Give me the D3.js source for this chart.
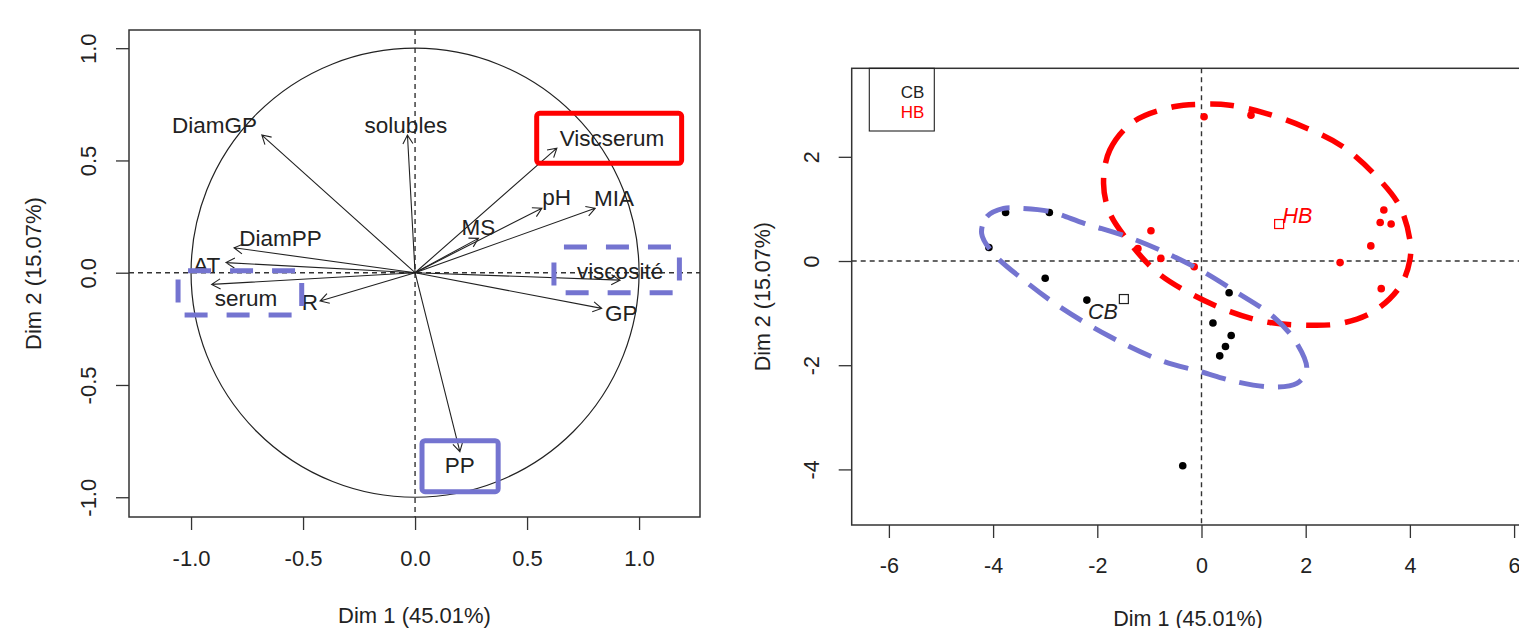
<!DOCTYPE html>
<html>
<head>
<meta charset="utf-8">
<script src="https://cdn.jsdelivr.net/npm/d3@7"></script>
<style>
  body { margin: 0; background: #fff; }
  svg { display: block; font-family: 'Liberation Sans', Arial, sans-serif; }
</style>
</head>
<body>
<div id="chartwrap"></div>
<script>
const WIDTH = 1519;
const HEIGHT = 628;

const INK = '#222';
const RED = '#ff0000';
const BLUE = '#7474d0';

// ---- left panel : variables factor map ----
const varNames = ['DiamGP', 'solubles', 'Viscserum', 'pH', 'MIA', 'MS', 'DiamPP', 'AT', 'serum', 'R', 'viscosité', 'GP', 'PP'];
const varDim1 = [-0.684, -0.034, 0.633, 0.566, 0.804, 0.283, -0.808, -0.844, -0.908, -0.424, 0.915, 0.833, 0.200];
const varDim2 = [0.613, 0.613, 0.555, 0.287, 0.287, 0.153, 0.111, 0.045, -0.052, -0.126, -0.033, -0.159, -0.797];
const labelDim1 = [-0.895, -0.041, 0.879, 0.632, 0.888, 0.283, -0.601, -0.930, -0.755, -0.469, 0.915, 0.921, 0.200];
const labelDim2 = [0.658, 0.658, 0.602, 0.337, 0.331, 0.205, 0.153, 0.036, -0.110, -0.129, 0.008, -0.177, -0.857];
const varTicks = [-1, -0.5, 0, 0.5, 1];

// highlight boxes drawn over the map (data units)
const boxX0 = [0.543, 0.620, -1.058, 0.031];
const boxX1 = [1.190, 1.180, -0.506, 0.371];
const boxY0 = [0.487, -0.089, -0.188, -0.975];
const boxY1 = [0.710, 0.115, 0.009, -0.748];
const boxKind = ['red', 'blueDash', 'blueDash', 'blue'];

// ---- right panel : individuals factor map ----
const cbDim1 = [-3.76, -2.92, -4.08, -3.00, -2.20, 0.53, 0.22, 0.57, 0.46, 0.35, -0.36];
const cbDim2 = [0.93, 0.93, 0.26, -0.33, -0.75, -0.61, -1.19, -1.43, -1.64, -1.82, -3.93];
const hbDim1 = [0.05, 0.95, -0.97, -1.22, -0.78, -0.14, 3.50, 3.43, 3.64, 3.25, 2.66, 3.45];
const hbDim2 = [2.77, 2.80, 0.58, 0.24, 0.05, -0.11, 0.98, 0.74, 0.71, 0.29, -0.03, -0.53];
const groupNames = ['CB', 'HB'];
const groupDim1 = [-1.49, 1.49];
const groupDim2 = [-0.73, 0.71];
const groupLabelDim1 = [-1.89, 1.84];
const groupLabelDim2 = [-0.96, 0.88];
const indXTicks = [-6, -4, -2, 0, 2, 4, 6];
const indYTicks = [-4, -2, 0, 2];

// hand drawn outlines around the groups (data units)
const hbOutline = [[-1.88, 1.49], [-1.76, 2.13], [-1.31, 2.67], [-0.54, 2.96], [0.03, 3.01], [0.55, 2.99],
  [1.25, 2.83], [2.02, 2.55], [2.72, 2.19], [3.36, 1.62], [3.81, 1.04], [4.00, 0.40], [4.00, 0.02],
  [3.81, -0.49], [3.30, -0.97], [2.66, -1.20], [1.95, -1.23], [1.25, -1.17], [0.55, -0.97],
  [-0.22, -0.62], [-0.86, -0.21], [-1.37, 0.34], [-1.76, 0.92]];
const cbOutline = [[-4.22, 0.53], [-4.12, 0.85], [-3.80, 1.01], [-3.45, 1.01], [-2.91, 0.95], [-2.24, 0.72],
  [-1.44, 0.47], [-0.73, 0.18], [-0.03, -0.17], [0.61, -0.56], [1.38, -1.07], [1.83, -1.58],
  [2.02, -2.09], [1.83, -2.35], [1.38, -2.42], [0.68, -2.32], [-0.03, -2.12], [-0.80, -1.90],
  [-1.76, -1.45], [-2.72, -0.88], [-3.42, -0.36], [-4.00, 0.15]];

const svg = d3.select('#chartwrap')
  .append('svg')
  .attr('width', WIDTH)
  .attr('height', HEIGHT)
  .style('background-color', '#fff')

// ================= left panel =================
const xL = d3.scaleLinear().domain([-1.277, 1.272]).range([129, 700]);
const yL = d3.scaleLinear().domain([-1.088, 1.081]).range([517, 30]);

const left = svg.append('g').attr('id', 'var-map')

function drawAxes(g, x, y, xt, yt, fmt, labelOff, fontSize) {
  const ax = g.append('g')
    .attr('transform', `translate(0,${y.range()[0]})`)
    .call(d3.axisBottom(x).tickValues(xt).tickFormat(fmt).tickSize(13).tickSizeOuter(0))
  ax.select('.domain').remove()
  ax.selectAll('line').attr('stroke', '#333').attr('stroke-width', 1.3)
  ax.selectAll('text')
    .attr('y', labelOff).attr('dy', '0.35em')
    .attr('fill', INK).style('font-size', fontSize + 'px')

  const ay = g.append('g')
    .attr('transform', `translate(${x.range()[0]},0)`)
    .call(d3.axisLeft(y).tickValues(yt).tickFormat(fmt).tickSize(13).tickSizeOuter(0))
  ay.select('.domain').remove()
  ay.selectAll('line').attr('stroke', '#333').attr('stroke-width', 1.3)
  ay.selectAll('text')
    .attr('x', null).attr('dy', '0.35em')
    .attr('text-anchor', 'middle')
    .attr('transform', `translate(${-labelOff},0) rotate(-90)`)
    .attr('fill', INK).style('font-size', fontSize + 'px')
  g.selectAll('g').attr('font-family', null).attr('font-size', null)
}

drawAxes(left, xL, yL, varTicks, varTicks, d => d.toFixed(1), 41, 22)

// reference lines
left.append('line')
  .attr('x1', xL(0)).attr('x2', xL(0)).attr('y1', yL.range()[1]).attr('y2', yL.range()[0])
  .attr('stroke', '#333').attr('stroke-width', 1.4).attr('stroke-dasharray', '5 4')
left.append('line')
  .attr('x1', xL.range()[0]).attr('x2', xL.range()[1]).attr('y1', yL(0)).attr('y2', yL(0))
  .attr('stroke', '#333').attr('stroke-width', 1.4).attr('stroke-dasharray', '5 4')

// correlation circle
left.append('ellipse')
  .attr('cx', xL(0)).attr('cy', yL(0))
  .attr('rx', xL(1) - xL(0)).attr('ry', yL(0) - yL(1))
  .attr('fill', 'none').attr('stroke', INK).attr('stroke-width', 1.2)

function arrowPath(x1, y1, x2, y2) {
  const a = Math.atan2(y2 - y1, x2 - x1);
  const L = 10, s = Math.PI / 6;
  return `M${x1},${y1}L${x2},${y2}` +
    `M${x2 - L * Math.cos(a - s)},${y2 - L * Math.sin(a - s)}L${x2},${y2}` +
    `L${x2 - L * Math.cos(a + s)},${y2 - L * Math.sin(a + s)}`
}

left.selectAll('path.arrow')
  .data(varNames)
  .enter()
  .append('path')
  .attr('class', 'arrow')
  .attr('d', (d, i) => arrowPath(xL(0), yL(0), xL(varDim1[i]), yL(varDim2[i])))
  .attr('fill', 'none').attr('stroke', INK).attr('stroke-width', 1.1)

left.selectAll('text.varlbl')
  .data(varNames)
  .enter()
  .append('text')
  .attr('class', 'varlbl')
  .attr('x', (d, i) => xL(labelDim1[i]))
  .attr('y', (d, i) => yL(labelDim2[i]))
  .attr('dy', '0.36em')
  .attr('text-anchor', 'middle')
  .attr('fill', INK)
  .style('font-size', '22.5px')
  .text(d => d)

left.append('rect')
  .attr('x', xL.range()[0]).attr('y', yL.range()[1])
  .attr('width', xL.range()[1] - xL.range()[0]).attr('height', yL.range()[0] - yL.range()[1])
  .attr('fill', 'none').attr('stroke', '#333').attr('stroke-width', 1.5)

left.selectAll('rect.hl')
  .data(boxKind)
  .enter()
  .append('rect')
  .attr('class', 'hl')
  .attr('x', (d, i) => xL(boxX0[i]))
  .attr('y', (d, i) => yL(boxY1[i]))
  .attr('width', (d, i) => xL(boxX1[i]) - xL(boxX0[i]))
  .attr('height', (d, i) => yL(boxY0[i]) - yL(boxY1[i]))
  .attr('rx', d => d === 'blueDash' ? 0 : 3)
  .attr('fill', 'none')
  .attr('stroke', d => d === 'red' ? RED : BLUE)
  .attr('stroke-width', 5)
  .attr('stroke-dasharray', d => d === 'blueDash' ? '23 19' : null)
  .attr('stroke-dashoffset', d => d === 'blueDash' ? -10 : null)

left.append('text')
  .attr('x', (xL.range()[0] + xL.range()[1]) / 2).attr('y', 615)
  .attr('dy', '0.35em').attr('text-anchor', 'middle')
  .attr('fill', INK).style('font-size', '22px')
  .text('Dim 1 (45.01%)')
left.append('text')
  .attr('transform', `translate(33,${(yL.range()[0] + yL.range()[1]) / 2}) rotate(-90)`)
  .attr('dy', '0.35em').attr('text-anchor', 'middle')
  .attr('fill', INK).style('font-size', '22px')
  .text('Dim 2 (15.07%)')

// ================= right panel =================
const xR = d3.scaleLinear().domain([-6.714, 6.196]).range([851.7, 1524.3]);
const yR = d3.scaleLinear().domain([-5.067, 3.699]).range([525, 68.3]);

const right = svg.append('g').attr('id', 'ind-map')

drawAxes(right, xR, yR, indXTicks, indYTicks, d => String(d), 40, 21.5)

right.append('line')
  .attr('x1', xR(0)).attr('x2', xR(0)).attr('y1', yR.range()[1]).attr('y2', yR.range()[0])
  .attr('stroke', '#333').attr('stroke-width', 1.4).attr('stroke-dasharray', '5 4')
right.append('line')
  .attr('x1', xR.range()[0]).attr('x2', xR.range()[1]).attr('y1', yR(0)).attr('y2', yR(0))
  .attr('stroke', '#333').attr('stroke-width', 1.4).attr('stroke-dasharray', '5 4')

right.selectAll('circle.cb')
  .data(cbDim1)
  .enter()
  .append('circle')
  .attr('class', 'cb')
  .attr('cx', d => xR(d))
  .attr('cy', (d, i) => yR(cbDim2[i]))
  .attr('r', 3.8)
  .attr('fill', '#000')

right.selectAll('circle.hb')
  .data(hbDim1)
  .enter()
  .append('circle')
  .attr('class', 'hb')
  .attr('cx', d => xR(d))
  .attr('cy', (d, i) => yR(hbDim2[i]))
  .attr('r', 3.8)
  .attr('fill', RED)

right.selectAll('rect.centroid')
  .data(groupNames)
  .enter()
  .append('rect')
  .attr('class', 'centroid')
  .attr('x', (d, i) => xR(groupDim1[i]) - 4.5)
  .attr('y', (d, i) => yR(groupDim2[i]) - 4.5)
  .attr('width', 9).attr('height', 9)
  .attr('fill', 'none')
  .attr('stroke', d => d === 'HB' ? RED : INK)
  .attr('stroke-width', 1.2)

right.selectAll('text.grp')
  .data(groupNames)
  .enter()
  .append('text')
  .attr('class', 'grp')
  .attr('x', (d, i) => xR(groupLabelDim1[i]))
  .attr('y', (d, i) => yR(groupLabelDim2[i]))
  .attr('dy', '0.36em')
  .attr('text-anchor', 'middle')
  .attr('fill', d => d === 'HB' ? RED : INK)
  .style('font-size', '21.5px')
  .style('font-style', 'italic')
  .text(d => d)

const outline = d3.line()
  .x(d => xR(d[0]))
  .y(d => yR(d[1]))
  .curve(d3.curveCatmullRomClosed.alpha(0.5))

right.append('path')
  .attr('d', outline(hbOutline))
  .attr('fill', 'none').attr('stroke', RED)
  .attr('stroke-width', 5.5).attr('stroke-dasharray', '24 15')

right.append('path')
  .attr('d', outline(cbOutline))
  .attr('fill', 'none').attr('stroke', BLUE)
  .attr('stroke-width', 5).attr('stroke-dasharray', '25 14')

right.append('rect')
  .attr('x', xR.range()[0]).attr('y', yR.range()[1])
  .attr('width', xR.range()[1] - xR.range()[0]).attr('height', yR.range()[0] - yR.range()[1])
  .attr('fill', 'none').attr('stroke', '#333').attr('stroke-width', 1.5)

// legend
const lg = right.append('g')
  .attr('transform', `translate(${xR.range()[0] + 17.6},${yR.range()[1]})`)
lg.append('rect')
  .attr('width', 65).attr('height', 62.7)
  .attr('fill', 'none').attr('stroke', INK).attr('stroke-width', 1.1)
lg.selectAll('text')
  .data(groupNames)
  .enter()
  .append('text')
  .attr('x', 55)
  .attr('y', (d, i) => 23.4 + i * 20.3)
  .attr('dy', '0.35em')
  .attr('text-anchor', 'end')
  .attr('fill', d => d === 'HB' ? RED : INK)
  .style('font-size', '17px')
  .text(d => d)

right.append('text')
  .attr('x', (xR.range()[0] + xR.range()[1]) / 2).attr('y', 618)
  .attr('dy', '0.35em').attr('text-anchor', 'middle')
  .attr('fill', INK).style('font-size', '21.5px')
  .text('Dim 1 (45.01%)')
right.append('text')
  .attr('transform', `translate(762,${(yR.range()[0] + yR.range()[1]) / 2}) rotate(-90)`)
  .attr('dy', '0.35em').attr('text-anchor', 'middle')
  .attr('fill', INK).style('font-size', '21.5px')
  .text('Dim 2 (15.07%)')
</script>
</body>
</html>
